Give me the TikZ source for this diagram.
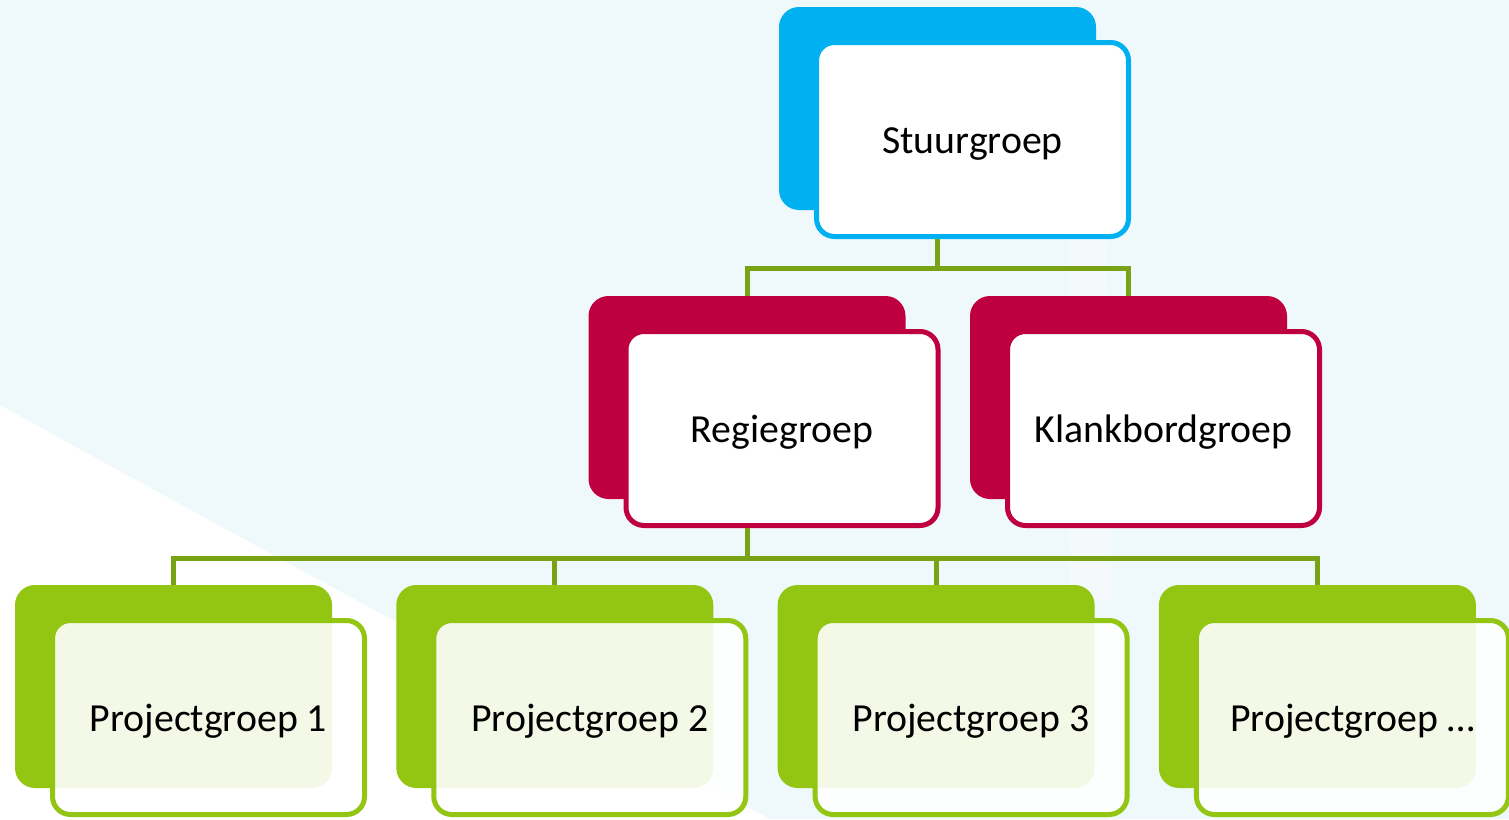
\documentclass[tikz,border=0pt]{standalone}
\usepackage{fontspec}
\setmainfont{Carlito}
\definecolor{bgcyan}{HTML}{EFF8FA}
\definecolor{stuurblue}{HTML}{00B0F0}
\definecolor{regiered}{HTML}{BE0040}
\definecolor{projgreen}{HTML}{93C613}
\definecolor{linkgreen}{HTML}{79A314}

\begin{document}
\begin{tikzpicture}[x=0.5pt, y=-0.5pt, every node/.style={font=\fontsize{19.9}{24}\selectfont},
	back/.style={rounded corners=10pt, inner sep=0pt, minimum width=158.5pt, minimum height=101.5pt},
	front/.style={rounded corners=9pt, inner sep=0pt, line width=2.5pt, fill=white, text height=14pt, text depth=0pt, minimum width=156pt, minimum height=97pt},
	link/.style={draw=linkgreen, line width=2.5pt}]
				% Background
				\useasboundingbox (0,0) rectangle (1509,819);
				\fill[bgcyan] (0,0) rectangle (1509,819);
				\fill[white] (0,405) .. controls (280,560) and (520,690) .. (770,819) -- (0,819) -- cycle;
				\fill[white, opacity=0.35] (1066,150) -- (1104,150) -- (1112,600) -- (1070,600) -- cycle;

				% Back boxes
				\node[back, fill=stuurblue] (stuurback) at (937.5,108.5) {};
				\node[back, fill=regiered] (regieback) at (747,397.5) {};
				\node[back, fill=regiered] (klankback) at (1128.5,397.5) {};
				\node[back, fill=projgreen] (pg1back) at (173.5,686.5) {};
				\node[back, fill=projgreen] (pg2back) at (554.8,686.5) {};
				\node[back, fill=projgreen] (pg3back) at (936.1,686.5) {};
				\node[back, fill=projgreen] (pg4back) at (1317.4,686.5) {};

				% Front boxes
				\node[front, draw=stuurblue] (stuur) at (972.5,139.5) {Stuurgroep};
				\node[front, draw=regiered] (regie) at (782,428.5) {Regiegroep};
				\node[front, draw=regiered] (klank) at (1163.5,428.5) {Klankbordgroep};
				\node[front, draw=projgreen, fill opacity=0.9, text opacity=1] (pg1) at (208.5,717.5) {Projectgroep 1};
				\node[front, draw=projgreen, fill opacity=0.9, text opacity=1] (pg2) at (589.8,717.5) {Projectgroep 2};
				\node[front, draw=projgreen, fill opacity=0.9, text opacity=1] (pg3) at (971.1,717.5) {Projectgroep 3};
				\node[front, draw=projgreen, fill opacity=0.9, text opacity=1] (pg4) at (1352.4,717.5) {Projectgroep …};

				% Connectors
				\coordinate (bartop) at (0,268);
				\coordinate (barlow) at (0,558);
				\draw[link] (stuurback |- stuur.south) |- (regieback |- bartop) -- (regieback.north);
				\draw[link] (stuurback |- bartop) -| (klankback.north);
				\draw[link] (regieback |- regie.south) -- (regieback |- barlow);
				\draw[link] (pg1back.north) |- (pg4back |- barlow) -- (pg4back.north);
				\draw[link] (pg2back |- barlow) -- (pg2back.north);
				\draw[link] (pg3back |- barlow) -- (pg3back.north);
			\end{tikzpicture}
\end{document}
